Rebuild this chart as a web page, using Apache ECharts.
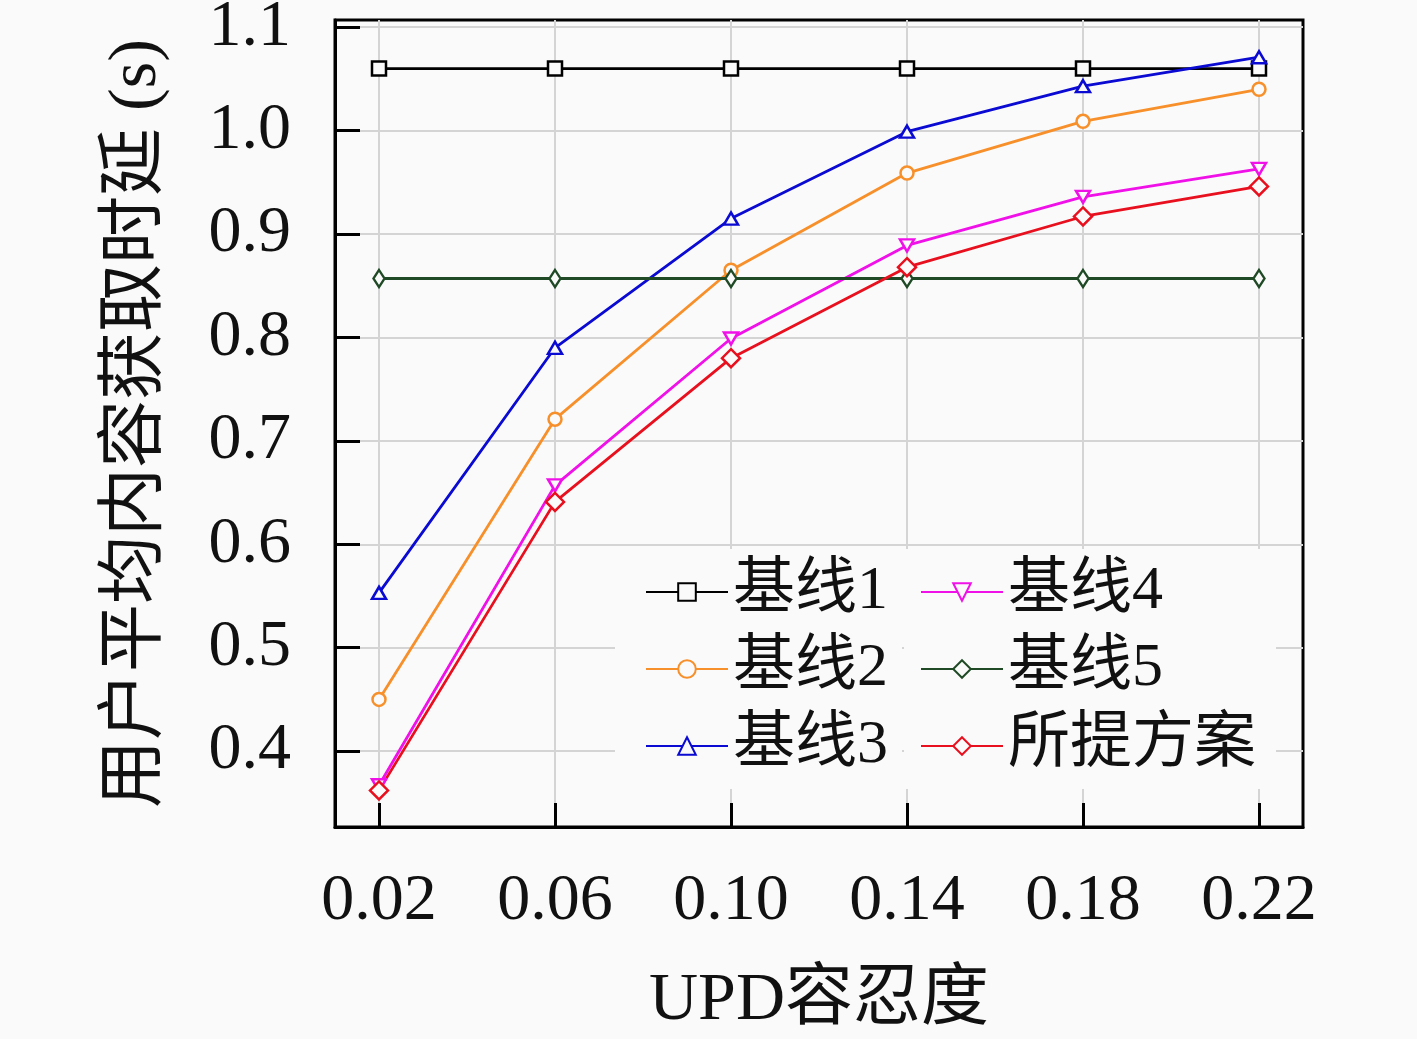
<!DOCTYPE html>
<html>
<head>
<meta charset="utf-8">
<script src="https://cdn.jsdelivr.net/npm/echarts@6/dist/echarts.min.js"></script>
<style>
  html, body { margin: 0; padding: 0; background: #fafafa; }
  #chart { width: 1417px; height: 1039px; }
</style>
</head>
<body>
<div id="chart"></div>
<script>
// UPD容忍度
const updTolerance = [0.02, 0.06, 0.10, 0.14, 0.18, 0.22];
const xTicks = [0.02, 0.06, 0.10, 0.14, 0.18, 0.22];
const yTicks = [0.4, 0.5, 0.6, 0.7, 0.8, 0.9, 1.0, 1.1];

// 用户平均内容获取时延 (s)
const baseline1 = [1.06, 1.06, 1.06, 1.06, 1.06, 1.06];
const baseline2 = [0.450, 0.721, 0.865, 0.959, 1.009, 1.040];
const baseline3 = [0.553, 0.790, 0.915, 0.999, 1.043, 1.071];
const baseline4 = [0.367, 0.657, 0.799, 0.889, 0.936, 0.963];
const baseline5 = [0.857, 0.857, 0.857, 0.857, 0.857, 0.857];
const proposed = [0.362, 0.641, 0.780, 0.868, 0.917, 0.946];

const bg = '#fafafa';
const latin = '"Liberation Serif", "DejaVu Serif", "Noto Sans CJK SC", serif';

function pairs(ys) {
    return updTolerance.map((x, i) => [x, ys[i]]);
}

function mkSeries(name, ys, color, symbol, size, rotate) {
    return {
        name: name,
        type: 'line',
        data: pairs(ys),
        symbol: symbol,
        symbolSize: size,
        symbolRotate: rotate || 0,
        lineStyle: { color: color, width: 2.8 },
        itemStyle: { color: bg, borderColor: color, borderWidth: 2.5 },
        z: 3
    };
}

function mkLegend(left, names, pad) {
    return {
        left: left, top: 549,
        orient: 'vertical',
        padding: pad,
        itemGap: 15,
        itemWidth: 82,
        itemHeight: 22,
        backgroundColor: bg,
        data: names,
        textStyle: { fontSize: 62, fontFamily: latin, color: '#111' }
    };
}

const chart = echarts.init(document.getElementById('chart'));
chart.setOption({
    backgroundColor: bg,
    animation: false,
    grid: {
        left: 335, right: 114, top: 20, bottom: 212,
        outerBoundsMode: 'none',
        show: true, borderColor: '#000', borderWidth: 3
    },
    legend: [
        mkLegend(615, ['基线1', '基线2', '基线3'], [12, 14, 12, 30]),
        mkLegend(904, ['基线4', '基线5', '所提方案'], [12, 20, 12, 16])
    ],
    xAxis: {
        type: 'value',
        min: 0.01, max: 0.23,
        name: 'UPD容忍度',
        nameLocation: 'middle',
        nameGap: 140,
        nameTextStyle: { fontSize: 68, fontFamily: latin, color: '#111' },
        axisLine: { lineStyle: { color: '#000', width: 3 } },
        axisTick: { inside: true, length: 24, customValues: xTicks, lineStyle: { color: '#000', width: 3 } },
        axisLabel: {
            customValues: xTicks, margin: 42, fontSize: 66, fontFamily: latin, color: '#111',
            formatter: v => v.toFixed(2)
        },
        splitLine: { show: true, lineStyle: { color: '#d4d4d4', width: 2 } }
    },
    yAxis: {
        type: 'value',
        min: 0.3266, max: 1.107,
        name: '用户平均内容获取时延 (s)',
        nameLocation: 'middle',
        nameGap: 164,
        nameTextStyle: { fontSize: 68, fontFamily: latin, color: '#111' },
        axisLine: { lineStyle: { color: '#000', width: 3 } },
        axisTick: { inside: true, length: 25, customValues: yTicks, lineStyle: { color: '#000', width: 3 } },
        axisLabel: {
            customValues: yTicks, margin: 44, fontSize: 66, fontFamily: latin, color: '#111',
            formatter: v => v.toFixed(1)
        },
        splitLine: { show: true, lineStyle: { color: '#d4d4d4', width: 2 } }
    },
    series: [
        mkSeries('基线1', baseline1, '#000000', 'rect', 14),
        mkSeries('基线2', baseline2, '#f7902a', 'circle', 13),
        mkSeries('基线3', baseline3, '#0a0ad2', 'triangle', [14, 12]),
        mkSeries('基线4', baseline4, '#f010e8', 'triangle', [14, 12], 180),
        mkSeries('基线5', baseline5, '#1f4a25', 'diamond', [11, 17]),
        mkSeries('所提方案', proposed, '#e8101e', 'diamond', [18, 18])
    ]
});
</script>
</body>
</html>
